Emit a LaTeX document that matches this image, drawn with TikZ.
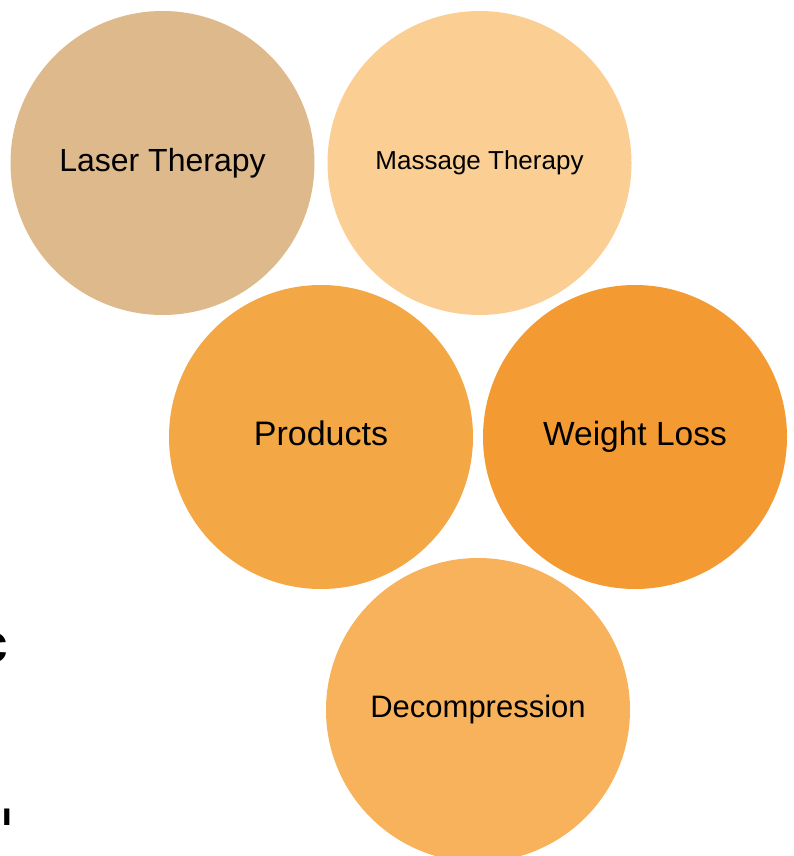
\documentclass[tikz,border=0pt]{standalone}
\usepackage{fontspec}
\setmainfont{Liberation Sans}
\definecolor{laserc}{HTML}{DEB98B}
\definecolor{massagec}{HTML}{FBCF93}
\definecolor{productc}{HTML}{F3A745}
\definecolor{weightc}{HTML}{F39B32}
\definecolor{decompc}{HTML}{F8B25B}
\begin{document}
\begin{tikzpicture}[x=1pt,y=-1pt,
  bubble/.style={circle,minimum size=304pt,inner sep=0pt,draw=none,text=black},
  frag/.style={inner sep=0pt,anchor=base west}]
\useasboundingbox (0,0) rectangle (793,856);
\node[bubble,fill=laserc,font=\fontsize{32}{38}\selectfont,text height=24pt,text depth=8pt] (laser) at (162.5,163) {Laser Therapy};
\node[bubble,fill=massagec,font=\fontsize{26}{31}\selectfont,text height=19.5pt,text depth=6.5pt] (massage) at (479.5,163) {Massage Therapy};
\node[bubble,fill=productc,font=\fontsize{34}{40}\selectfont,text height=25.5pt,text depth=8.5pt] (products) at (321,437) {Products};
\node[bubble,fill=weightc,font=\fontsize{33.5}{40}\selectfont,text height=25.1pt,text depth=8.4pt] (weight) at (635,437) {Weight Loss};
\node[bubble,fill=decompc,font=\fontsize{31}{37}\selectfont,text height=23.25pt,text depth=7.75pt] (decomp) at (478,710) {Decompression};
\node[frag,font=\bfseries\fontsize{55}{60}\selectfont] (fragc) at (-23,662) {c};
\node[frag,font=\bfseries\fontsize{24}{28}\selectfont] (fragi) at (1.7,825.5) {\scalebox{1.5}[1]{I}};
\end{tikzpicture}
\end{document}
